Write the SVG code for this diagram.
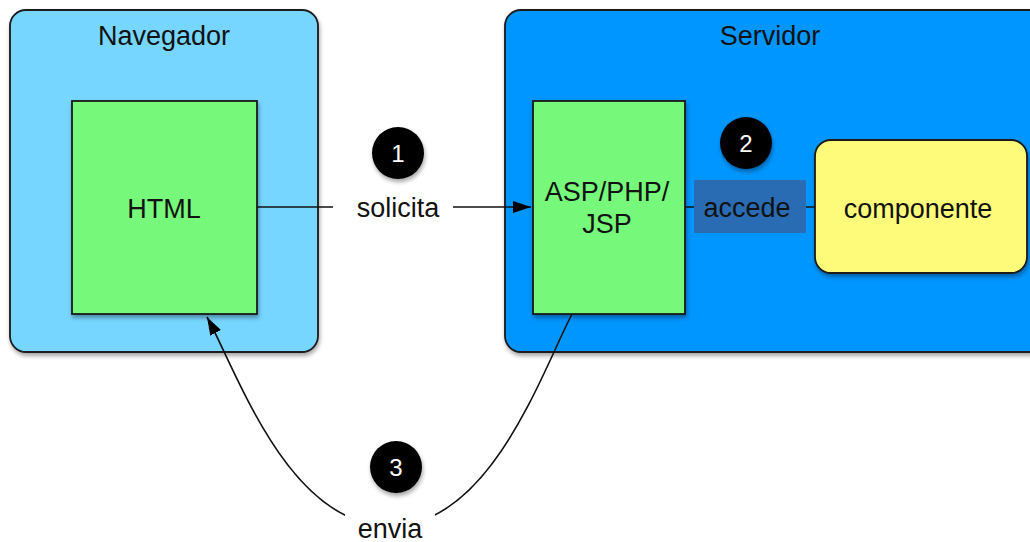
<svg xmlns="http://www.w3.org/2000/svg" width="1030" height="542" viewBox="0 0 1030 542">
  <defs>
    <filter id="shadow" x="-10%" y="-10%" width="130%" height="130%">
      <feGaussianBlur in="SourceAlpha" stdDeviation="2"/>
      <feOffset dx="1" dy="3" result="b"/>
      <feComponentTransfer><feFuncA type="linear" slope="0.35"/></feComponentTransfer>
      <feMerge><feMergeNode/><feMergeNode in="SourceGraphic"/></feMerge>
    </filter>
    <marker id="arrow" viewBox="0 0 18 12" refX="18" refY="6" markerWidth="18" markerHeight="12" markerUnits="userSpaceOnUse" orient="auto">
      <path d="M0,0 L18,6 L0,12 Z" fill="#000"/>
    </marker>
  </defs>
  <style>
    text { font-family: "Liberation Sans", Arial, Helvetica, sans-serif; font-size: 27px; fill: #111; text-anchor: middle; }
    .box { stroke: #1a1a1a; stroke-width: 1.8; filter: url(#shadow); }
    .green { fill: #76f87a; }
    .edge { fill: none; stroke: #111; stroke-width: 1.6; }
    .badge { fill: #000; filter: url(#shadow); }
    .badge-num { fill: #fff; font-size: 24px; }
  </style>

  <rect width="1030" height="542" fill="#fff"/>

  <!-- containers -->
  <g id="navegador">
    <rect class="box" x="10" y="10" width="308" height="342" rx="16" fill="#76d6ff"/>
    <text x="164" y="45">Navegador</text>
  </g>
  <g id="servidor">
    <rect class="box" x="505" y="10" width="545" height="342" rx="16" fill="#0096ff"/>
    <text x="770" y="45">Servidor</text>
  </g>

  <!-- connectors -->
  <g id="connectors">
    <path class="edge" d="M257,207 L531,207" marker-end="url(#arrow)"/>
    <path class="edge" d="M685,207 L815,207"/>
    <path class="edge" d="M572,314 C541,374 490,526 390,526 C289,526 238,374 207,317" marker-end="url(#arrow)"/>
    <!-- label backgrounds -->
    <rect x="333" y="188" width="120" height="36" fill="#fff"/>
    <rect x="694" y="180" width="112" height="53" fill="#2a6cb4"/>
    <rect x="345" y="512" width="90" height="32" fill="#fff"/>
    <text x="398" y="217">solicita</text>
    <text x="747" y="217">accede</text>
    <text x="390" y="538">envia</text>
  </g>

  <!-- nodes -->
  <g id="html">
    <rect class="box green" x="72" y="101" width="185" height="213"/>
    <text x="164" y="218">HTML</text>
  </g>
  <g id="asp-php-jsp">
    <rect class="box green" x="533" y="101" width="152" height="213"/>
    <text x="607" y="201">ASP/PHP/</text>
    <text x="607" y="233">JSP</text>
  </g>
  <g id="componente">
    <rect class="box" x="815" y="140" width="212" height="133" rx="16" fill="#fffb7a"/>
    <text x="918" y="218">componente</text>
  </g>

  <!-- step badges -->
  <g id="step-1">
    <circle class="badge" cx="398" cy="153" r="26"/>
    <text class="badge-num" x="398" y="162">1</text>
  </g>
  <g id="step-2">
    <circle class="badge" cx="746" cy="143" r="26"/>
    <text class="badge-num" x="746" y="152">2</text>
  </g>
  <g id="step-3">
    <circle class="badge" cx="396" cy="467" r="26"/>
    <text class="badge-num" x="396" y="476">3</text>
  </g>
</svg>
